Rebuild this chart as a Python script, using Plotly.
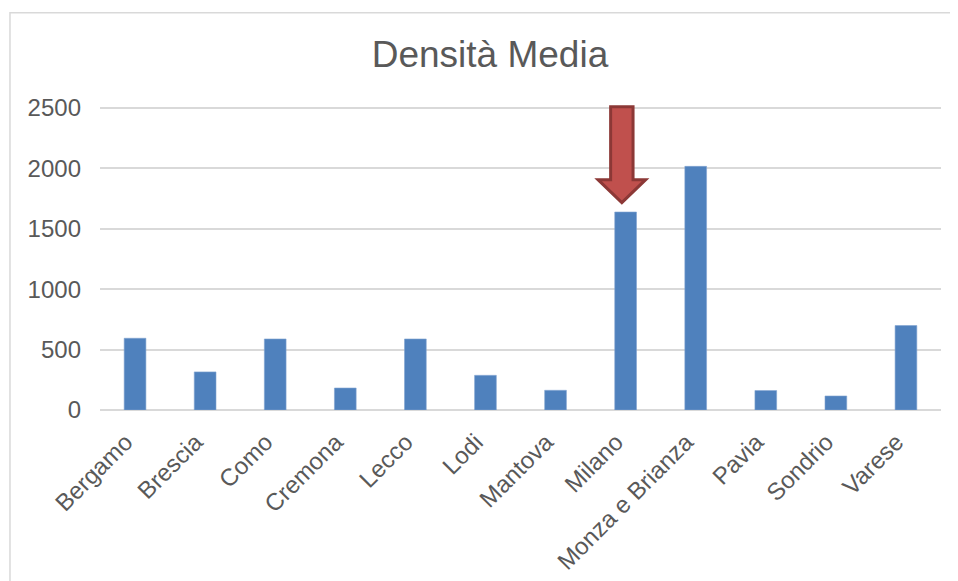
import plotly.graph_objects as go

categories = ["Bergamo", "Brescia", "Como", "Cremona", "Lecco", "Lodi", "Mantova",
              "Milano", "Monza e Brianza", "Pavia", "Sondrio", "Varese"]
densita = [594, 315, 588, 182, 588, 287, 163, 1639, 2017, 161, 116, 699]
y_ticks = [0, 500, 1000, 1500, 2000, 2500]
title_text = "Densità Media"
highlight = "Milano"

# page body has an 8px margin in the browser; compensate
OFF = 8
W, H = 958 - OFF, 581 - OFF
Y_TOP = 2525
px_per_unit = 302 / 2500
L = 100 - OFF
T = 107.7 - OFF - (Y_TOP - 2500) * px_per_unit
R = W - (940.7 - OFF)
B = H - (409.7 - OFF)
FONT = "Liberation Sans, Arial, sans-serif"
GREY = "#595959"
GRID = "#D9D9D9"

xs = list(range(len(categories)))
tick_text = [c + "\u00a0\u00a0" for c in categories]

fig = go.Figure()
fig.add_trace(go.Bar(
    x=xs, y=densita,
    marker=dict(color="#4F81BD", line=dict(color="#7FA3D0", width=0.6)),
    hovertext=categories, hoverinfo="text+y",
))

# arrow pointing to the highlighted bar (decoration, in data units)
hx = categories.index(highlight) - 0.054
shaft_hw, head_hw = 0.16, 0.34
top_y, head_base_y = 2510, 1907
tip_y = densita[categories.index(highlight)] + 78
path = (f"M {hx-shaft_hw},{top_y} L {hx+shaft_hw},{top_y} L {hx+shaft_hw},{head_base_y} "
        f"L {hx+head_hw},{head_base_y} L {hx},{tip_y} L {hx-head_hw},{head_base_y} "
        f"L {hx-shaft_hw},{head_base_y} Z")
fig.add_shape(type="path", path=path, xref="x", yref="y",
              fillcolor="#C0504D", line=dict(color="#8C3836", width=3), layer="above")

# chart area border
pw, ph = W - L - R, H - T - B
fig.add_shape(type="rect", xref="paper", yref="paper",
              x0=(10 - OFF - L) / pw, x1=(W + 5 - L) / pw,
              y0=-(B + 5) / ph, y1=(H - B - (12.5 - OFF)) / ph,
              line=dict(color=GRID, width=1.5), fillcolor="rgba(0,0,0,0)", layer="below")

fig.update_layout(
    width=W, height=H,
    margin=dict(l=L, r=R, t=T, b=B, autoexpand=False),
    paper_bgcolor="white", plot_bgcolor="white",
    showlegend=False,
    bargap=0.69,
    font=dict(family=FONT, color=GREY),
    title=dict(text=title_text, font=dict(family=FONT, size=37, color=GREY),
               xref="container", yref="container",
               x=(490 - OFF) / W, xanchor="center", y=1 - (54 - OFF) / H, yanchor="middle"),
    xaxis=dict(
        tickmode="array", tickvals=xs, ticktext=tick_text,
        range=[-0.5, len(categories) - 0.5],
        tickangle=-45, tickfont=dict(size=24, color=GREY, family=FONT),
        showgrid=False, zeroline=False, showline=False, ticks="",
        ticklabelstandoff=3,
    ),
    yaxis=dict(
        range=[0, Y_TOP], tickmode="array", tickvals=y_ticks,
        tickfont=dict(size=24, color=GREY, family=FONT),
        showgrid=True, gridcolor=GRID, gridwidth=1.5,
        zeroline=True, zerolinecolor=GRID, zerolinewidth=1.5,
        showline=False, ticks="", ticklabelstandoff=18,
    ),
)

fig.write_html("out.html")
